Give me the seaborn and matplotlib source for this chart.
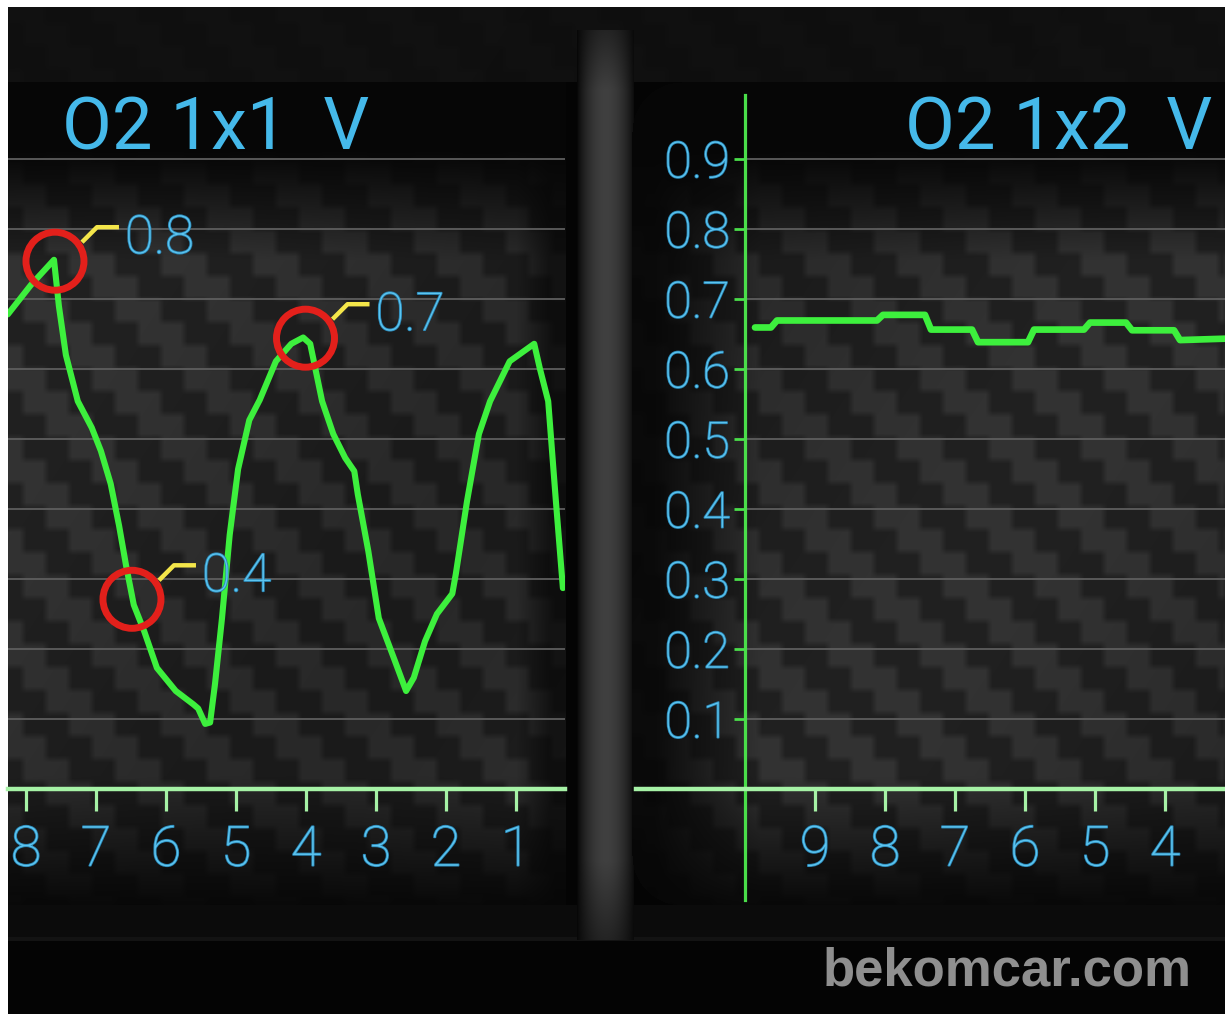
import numpy as np
import pandas as pd
import matplotlib
matplotlib.use("Agg")
import matplotlib.pyplot as plt
import matplotlib.patheffects as pe
import seaborn as sns

# ---------------- data ----------------
o2_1x1_t = [8.26, 7.93, 7.71, 7.60, 7.53, 7.43, 7.26, 7.06, 6.93, 6.79, 6.67, 6.57,
            6.46, 6.31, 6.13, 5.86, 5.61, 5.54, 5.44, 5.37, 5.30, 5.20, 5.09, 4.97,
            4.81, 4.66, 4.43, 4.21, 4.04, 3.94, 3.77, 3.61, 3.44, 3.31, 3.26, 3.11,
            2.96, 2.73, 2.57, 2.46, 2.30, 2.13, 1.91, 1.86, 1.70, 1.53, 1.37, 1.09,
            0.74, 0.66, 0.54, 0.43, 0.33]
o2_1x1_v = [0.678, 0.720, 0.744, 0.756, 0.690, 0.620, 0.554, 0.516, 0.483, 0.436, 0.376, 0.319,
            0.263, 0.225, 0.173, 0.140, 0.121, 0.115, 0.093, 0.095, 0.150, 0.244, 0.363, 0.457,
            0.527, 0.556, 0.611, 0.636, 0.645, 0.636, 0.554, 0.507, 0.473, 0.454, 0.421, 0.340,
            0.244, 0.183, 0.140, 0.159, 0.211, 0.250, 0.279, 0.307, 0.411, 0.507, 0.554, 0.611,
            0.636, 0.601, 0.554, 0.411, 0.287]

o2_1x2_t = [9.857, 9.629, 9.543, 8.114, 8.029, 7.429, 7.343, 6.757, 6.671, 5.957,
            5.871, 5.157, 5.071, 4.557, 4.471, 3.871, 3.786, 3.143]
o2_1x2_v = [0.659, 0.659, 0.669, 0.669, 0.677, 0.677, 0.656, 0.656, 0.638, 0.638,
            0.656, 0.656, 0.666, 0.666, 0.655, 0.655, 0.641, 0.643]

left_xticks = [8, 7, 6, 5, 4, 3, 2, 1]
right_xticks = [9, 8, 7, 6, 5, 4]
volt_levels = [0.1, 0.2, 0.3, 0.4, 0.5, 0.6, 0.7, 0.8, 0.9]
volt_labels = ["0.1", "0.2", "0.3", "0.4", "0.5", "0.6", "0.7", "0.8", "0.9"]

mark_t = [7.586, 4.007, 6.486]
mark_v = [0.754, 0.644, 0.271]
mark_labels = ["0.8", "0.7", "0.4"]

title_left = "O2 1x1  V"
title_right = "O2 1x2  V"
watermark = "bekomcar.com"

# ---------------- style ----------------
sns.set_theme(style="dark")
plt.rcParams["font.family"] = ["Roboto", "DejaVu Sans"]
NARROW = ["Liberation Sans Narrow", "Roboto", "DejaVu Sans"]

GREEN = "#3df03d"
AXIS = "#a6f2a6"
YAXIS = "#4ade4a"
GRID = "#5e5e5e"
BLUE = "#5cc5f0"
BLUE_T = "#45b9ea"
RED = "#e3201b"
YELLOW = "#f4e64a"

W, H = 1225, 1014

# ---------------- background (decoration) ----------------
yy, xx = np.mgrid[0:H, 0:W].astype(float)
blk = 23
bx = (xx // blk).astype(int)
by = (yy // blk).astype(int)
tex = np.where(((bx - by) % 4) < 2, 0.195, 0.125)
# soft blur of the weave blocks
k = 3
acc = np.zeros_like(tex)
n = 0
for dy in range(-k, k + 1):
    for dx in range(-k, k + 1):
        acc += np.roll(np.roll(tex, dy, axis=0), dx, axis=1)
        n += 1
tex = acc / n
tex = tex * (0.92 + 0.10 * np.sin(xx / 170.0 + yy / 260.0))

img = np.full((H, W), 0.018)
band = (yy >= 7) & (yy < 82)
img[band] = (0.06 + 0.12 * (tex - 0.125))[band]

mbot = (yy >= 905) & (yy < 940)
img[mbot] = 0.045
img[(yy >= 937) & (yy < 941)] = 0.075

fade_top = np.clip((yy - 150) / 110, 0, 1)
fade_bot = np.clip((915 - yy) / 140, 0, 1)

# separator bar
ms = (xx >= 577) & (xx < 634) & (yy >= 30) & (yy < 940)
prof = np.sin(np.pi * np.clip((xx - 577) / 57, 0, 1))
vf = np.clip((yy - 30) / 60, 0, 1) * np.clip((940 - yy) / 80, 0, 1)
sep = 0.03 + 0.22 * prof ** 0.8 * (0.5 + 0.5 * vf)
img[ms] = sep[ms]

# left panel
mL = (xx >= 8) & (xx < 566) & (yy >= 82) & (yy < 905)
fl = fade_top * fade_bot * np.clip((566 - xx) / 50, 0.35, 1)
img[mL] = (0.025 + (tex - 0.025) * fl)[mL]

# right panel with rounded left corners
r = 50
c1 = (xx < 632 + r) & (yy < 82 + r) & ((xx - (632 + r)) ** 2 + (yy - (82 + r)) ** 2 > r ** 2)
c2 = (xx < 632 + r) & (yy > 905 - r) & ((xx - (632 + r)) ** 2 + (yy - (905 - r)) ** 2 > r ** 2)
mR = (xx >= 632) & (yy >= 82) & (yy < 905) & ~c1 & ~c2
fr = fade_top * fade_bot * np.clip((xx - 640) / 120, 0.12, 1)
img[mR] = (0.025 + (tex - 0.025) * fr)[mR]

img[:7, :] = 1.0
img[:, :8] = 1.0
rgb = np.dstack([np.clip(img, 0, 1)] * 3)

fig = plt.figure(figsize=(W / 100, H / 100), dpi=100)
fig.patch.set_facecolor("black")
bg = fig.add_axes([0, 0, 1, 1], zorder=0)
bg.imshow(rgb, extent=(0, W, H, 0), interpolation="nearest", aspect="auto")
bg.set_xlim(0, W)
bg.set_ylim(H, 0)
bg.axis("off")


def px_rect(l, t, r_, b):
    return [l / W, 1 - b / H, (r_ - l) / W, (b - t) / H]


glow = [pe.withStroke(linewidth=1.2, foreground="#2a86b5")]

# ---------------- left chart ----------------
axL = fig.add_axes(px_rect(8, 82, 565, 789), zorder=2)
axL.set_facecolor("none")
dfL = pd.DataFrame({"t": o2_1x1_t, "v": o2_1x1_v})
sns.lineplot(data=dfL, x="t", y="v", sort=False, estimator=None, ax=axL,
             color=GREEN, linewidth=4.4, solid_capstyle="round", solid_joinstyle="round", zorder=4)
axL.set_xlim(8.257, 0.3)
axL.set_ylim(0, 1.01)
axL.set_xlabel("")
axL.set_ylabel("")
axL.set_yticks(volt_levels)
axL.tick_params(axis="y", length=0, left=False, labelleft=False)
axL.set_axisbelow(True)
axL.grid(False)
axL.grid(axis="y", color=GRID, lw=1.3)
axL.set_xticks(left_xticks)
axL.set_xticklabels([str(v) for v in left_xticks])
for s in ["left", "right", "top"]:
    axL.spines[s].set_visible(False)
axL.spines["bottom"].set_color(AXIS)
axL.spines["bottom"].set_linewidth(3.2)
axL.tick_params(axis="x", bottom=True, direction="out", length=16, width=2.3, color=AXIS,
                pad=9, labelsize=40, labelcolor=BLUE)
for lab in axL.get_xticklabels():
    lab.set_fontfamily(NARROW)
    lab.set_fontweight("light")
    lab.set_path_effects(glow)

axL.scatter(mark_t, mark_v, s=1745, facecolors="none", edgecolors=RED,
            linewidths=5.0, zorder=6)

inv = axL.transData.inverted()
for t, v, lab in zip(mark_t, mark_v, mark_labels):
    cx, cy = axL.transData.transform((t, v))
    offs = [(27, -19), (42, -34), (64, -34)]
    pts = inv.transform([(cx + dx, cy - dy) for dx, dy in offs])
    axL.plot(pts[:, 0], pts[:, 1], color=YELLOW, lw=3.2, solid_capstyle="butt",
             solid_joinstyle="round", zorder=6)
    tx, ty = inv.transform((cx + 70, cy + 8))
    axL.text(tx, ty, lab, ha="left", va="baseline", fontsize=38, color=BLUE,
             family=NARROW, fontweight="light", zorder=7, path_effects=glow)

# ---------------- right chart ----------------
axR = fig.add_axes(px_rect(636, 95, 1225, 900), zorder=2)
axR.set_facecolor("none")
dfR = pd.DataFrame({"t": o2_1x2_t, "v": o2_1x2_v})
sns.lineplot(data=dfR, x="t", y="v", sort=False, estimator=None, ax=axR,
             color=GREEN, linewidth=4.8, solid_capstyle="round", solid_joinstyle="round", zorder=4)
axR.set_xlim(11.557, 3.143)
axR.set_ylim(-0.1586, 0.991)
axR.set_xlabel("")
axR.set_ylabel("")
axR.grid(False)
axR.hlines(volt_levels, 10, 3.143, colors=GRID, lw=1.3, zorder=1)
axR.spines["left"].set_position(("data", 10))
axR.spines["bottom"].set_position(("data", 0))
axR.spines["top"].set_visible(False)
axR.spines["right"].set_visible(False)
axR.spines["left"].set_color(YAXIS)
axR.spines["left"].set_linewidth(2.3)
axR.spines["bottom"].set_color(AXIS)
axR.spines["bottom"].set_linewidth(3.2)
axR.set_yticks(volt_levels)
axR.set_yticklabels(volt_labels)
axR.set_xticks(right_xticks)
axR.set_xticklabels([str(v) for v in right_xticks])
axR.tick_params(axis="x", bottom=True, direction="out", length=16, width=2.3, color=AXIS,
                pad=9, labelsize=40, labelcolor=BLUE)
axR.tick_params(axis="y", left=True, direction="out", length=8, width=2.0, color=YAXIS,
                pad=3, labelsize=36, labelcolor=BLUE)
for lab in axR.get_xticklabels() + axR.get_yticklabels():
    lab.set_fontfamily(NARROW)
    lab.set_fontweight("light")
    lab.set_path_effects(glow)

# ---------------- titles & watermark ----------------
fig.text(62 / W, 1 - 150 / H, title_left, ha="left", va="baseline", fontsize=52,
         color=BLUE_T, family=["Roboto", "DejaVu Sans"], zorder=5)
fig.text(1212 / W, 1 - 150 / H, title_right, ha="right", va="baseline", fontsize=52,
         color=BLUE_T, family=["Roboto", "DejaVu Sans"], zorder=5)
fig.text(1192 / W, 1 - 986 / H, watermark, ha="right", va="baseline", fontsize=38,
         fontweight="bold", color="#8f8f8f", family=["Liberation Sans", "DejaVu Sans"], zorder=5)

fig.savefig("out.png", dpi=100, facecolor=fig.get_facecolor())
